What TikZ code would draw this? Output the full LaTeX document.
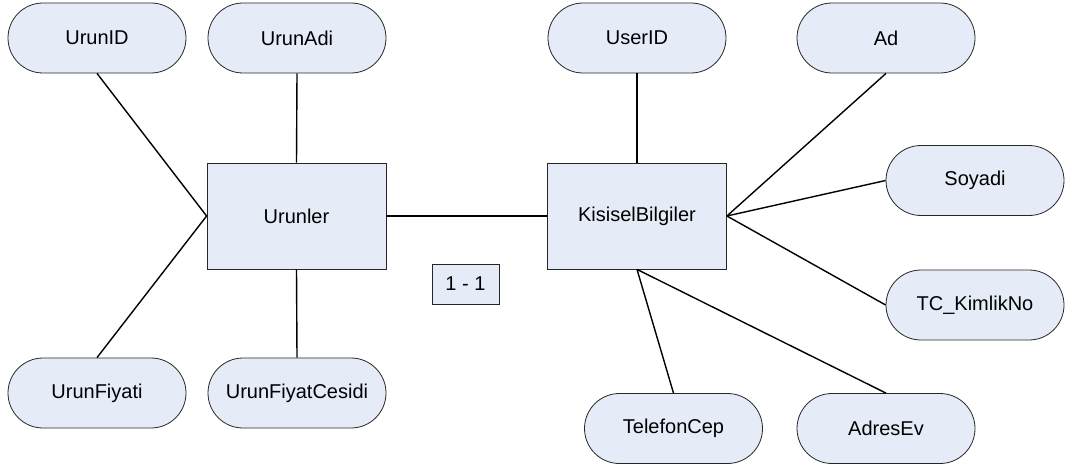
\documentclass[tikz,border=0pt]{standalone}
\usepackage{fontspec}
\setmainfont{Liberation Sans}
\begin{document}
\begin{tikzpicture}[x=1pt,y=-1pt,
  attr/.style={draw=black!85,line width=0.8pt,fill=fillc,rounded corners=35pt,minimum width=178pt,minimum height=70pt,inner sep=0pt,font=\fontsize{20}{24}\selectfont},
  ent/.style={draw=black!85,line width=0.8pt,fill=fillc,minimum width=179pt,minimum height=106pt,inner sep=0pt,font=\fontsize{20}{24}\selectfont},
  lbl/.style={draw=black!85,line width=0.8pt,fill=fillc,minimum width=67pt,minimum height=40pt,inner sep=0pt,font=\fontsize{20}{24}\selectfont},
  conn/.style={draw=black,line width=1.4pt}]
\definecolor{fillc}{RGB}{230,236,247}
\useasboundingbox (0,0) rectangle (1070,468);
% entities
\node[ent] (urunler) at (296.5,216) {Urunler};
\node[ent] (kisisel) at (637,216) {KisiselBilgiler};
\node[lbl] (rel) at (465.5,284) {1 - 1};
% attributes
\node[attr] (urunid) at (97,38) {UrunID};
\node[attr] (urunadi) at (297,38) {UrunAdi};
\node[attr] (userid) at (637,38) {UserID};
\node[attr] (ad) at (886,38) {Ad};
\node[attr] (soyadi) at (975,180.5) {Soyadi};
\node[attr] (tc) at (975,305) {TC\_KimlikNo};
\node[attr] (urunfiyati) at (97,393) {UrunFiyati};
\node[attr] (urunfiyatcesidi) at (297,393) {UrunFiyatCesidi};
\node[attr] (telefon) at (673.5,428.5) {TelefonCep};
\node[attr] (adres) at (886,428.5) {AdresEv};
% connectors
\draw[conn] (urunid.south) -- (urunler.west);
\draw[conn] (urunfiyati.north) -- (urunler.west);
\draw[conn] (urunadi.south) -- (urunler.north);
\draw[conn] (urunfiyatcesidi.north) -- (urunler.south);
\draw[conn] (urunler.east) -- (kisisel.west);
\draw[conn] (userid.south) -- (kisisel.north);
\draw[conn] (ad.south) -- (kisisel.east);
\draw[conn] (soyadi.west) -- (kisisel.east);
\draw[conn] (tc.west) -- (kisisel.east);
\draw[conn] (telefon.north) -- (kisisel.south);
\draw[conn] (adres.north) -- (kisisel.south);
\end{tikzpicture}
\end{document}
